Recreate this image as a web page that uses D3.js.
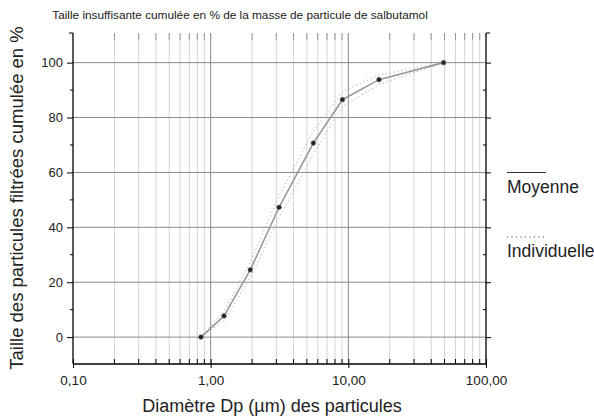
<!DOCTYPE html>
<html>
<head>
<meta charset="utf-8">
<script src="https://cdn.jsdelivr.net/npm/d3@7"></script>
<style>
 body { margin: 0; background: #fff; }
 text { font-family: "Liberation Sans", Arial, sans-serif; fill: #222; }
</style>
</head>
<body>
<div id="chart"></div>
<script>
// data
const diam = [0.85, 1.25, 1.94, 3.14, 5.57, 9.06, 16.7, 49.2];
const moyenne = [0, 7.7, 24.5, 47.3, 70.7, 86.5, 93.8, 100];
const indiv1 = [0, 9.5, 27.5, 51.5, 75, 89.5, 95.5, 100];
const indiv2 = [0, 6, 21.5, 43.5, 66.5, 84, 92, 100];
const yTicks = [0, 20, 40, 60, 80, 100];
const xTicks = [0.1, 1, 10, 100];

const W = 594, H = 416;
const margin = { top: 33, right: 108, bottom: 52, left: 73 },
  width = W - margin.left - margin.right,
  height = H - margin.top - margin.bottom;

const svg0 = d3.select("#chart").append("svg")
  .attr("width", W).attr("height", H);
const svg = svg0.append("g")
  .attr("transform", `translate(${margin.left}, ${margin.top})`);

const x = d3.scaleLog().domain([0.1, 100]).range([0, 413]);
const y = d3.scaleLinear().domain([-9.8, 110.8]).range([height, 0]);

// minor positions of the log axis
let minor = [];
[0.1, 1, 10].forEach(function (d) {
  for (let k = 2; k <= 9; k++) minor.push(d * k);
});

// grid
svg.append("g").selectAll("line").data(minor).enter().append("line")
  .attr("x1", d => x(d)).attr("x2", d => x(d))
  .attr("y1", 0).attr("y2", height)
  .attr("stroke", "#d4d4d4").attr("stroke-width", 1);
svg.append("g").selectAll("line").data([1, 10]).enter().append("line")
  .attr("x1", d => x(d)).attr("x2", d => x(d))
  .attr("y1", 0).attr("y2", height)
  .attr("stroke", "#8a8a8a").attr("stroke-width", 1);
svg.append("g").selectAll("line").data(yTicks).enter().append("line")
  .attr("x1", 0).attr("x2", x(100))
  .attr("y1", d => y(d)).attr("y2", d => y(d))
  .attr("stroke", "#8a8a8a").attr("stroke-width", 1);

// bottom axis
const xAxis = svg.append("g").attr("transform", "translate(0," + height + ")");
xAxis.call(d3.axisBottom(x).tickValues(xTicks)
  .tickFormat(d => d3.format(".2f")(d).replace(".", ","))
  .tickSize(5).tickPadding(6));
xAxis.selectAll("text").style("font-size", "13.5px");
xAxis.select(".domain").attr("d", "M0,0H" + x(100));
xAxis.append("g").selectAll("line").data(minor).enter().append("line")
  .attr("x1", d => x(d)).attr("x2", d => x(d))
  .attr("y1", 0).attr("y2", -5).attr("stroke", "#000");
xAxis.selectAll(".tick line").attr("y1", -5).attr("y2", 4);

// top minor ticks (no line)
svg.append("g").selectAll("line").data(minor.concat([1, 10])).enter().append("line")
  .attr("x1", d => x(d)).attr("x2", d => x(d))
  .attr("y1", 0).attr("y2", 7).attr("stroke", "#999");

// left axis
const yAxis = svg.append("g");
yAxis.call(d3.axisLeft(y).tickValues(yTicks).tickSize(6).tickPadding(4));
yAxis.selectAll("text").style("font-size", "13px");
yAxis.select(".domain").attr("d", "M0,0V" + height);
yAxis.append("g").selectAll("line").data([10, 30, 50, 70, 90]).enter().append("line")
  .attr("x1", -3).attr("x2", 0)
  .attr("y1", d => y(d)).attr("y2", d => y(d)).attr("stroke", "#000");
yAxis.append("line").attr("x1", -4).attr("x2", 0).attr("y1", 0).attr("y2", 0).attr("stroke", "#000");

// right axis
const rAxis = svg.append("g").attr("transform", "translate(" + x(100) + ",0)");
rAxis.call(d3.axisRight(y).tickValues(yTicks).tickSize(5).tickFormat(""));
rAxis.select(".domain").attr("d", "M0,0V" + height);
rAxis.append("g").selectAll("line").data([10, 30, 50, 70, 90]).enter().append("line")
  .attr("x1", -3).attr("x2", 0)
  .attr("y1", d => y(d)).attr("y2", d => y(d)).attr("stroke", "#000");
rAxis.append("line").attr("x1", 0).attr("x2", 4).attr("y1", 0).attr("y2", 0).attr("stroke", "#000");

svg.selectAll(".domain").attr("stroke", "#000").attr("stroke-width", 1.3);

// curves
const line = d3.line().x(d => x(d[0])).y(d => y(d[1]));
[indiv1, indiv2].forEach(function (s) {
  svg.append("path")
    .datum(d3.zip(diam, s))
    .attr("d", line)
    .attr("fill", "none")
    .attr("stroke", "#a0a0a0")
    .attr("stroke-width", 1)
    .attr("stroke-dasharray", "1,3");
});
svg.append("path")
  .datum(d3.zip(diam, moyenne))
  .attr("d", line)
  .attr("fill", "none")
  .attr("stroke", "#999")
  .attr("stroke-width", 1.6);
svg.append("g").selectAll("circle").data(d3.zip(diam, moyenne)).enter().append("circle")
  .attr("cx", d => x(d[0])).attr("cy", d => y(d[1]))
  .attr("r", 2.4).attr("fill", "#222").attr("stroke", "#777").attr("stroke-width", 0.6);

// texts
svg0.append("text").attr("x", 240).attr("y", 19).attr("text-anchor", "middle")
  .style("font-size", "11.8px")
  .text("Taille insuffisante cumulée en % de la masse de particule de salbutamol");
svg0.append("text").attr("x", 272).attr("y", 412).attr("text-anchor", "middle")
  .style("font-size", "18px")
  .text("Diamètre Dp (µm) des particules");
svg0.append("text")
  .attr("transform", "translate(23,198) rotate(-90)")
  .attr("text-anchor", "middle")
  .style("font-size", "18.5px")
  .text("Taille des particules filtrées cumulée en %");

// legend
svg0.append("line").attr("x1", 507).attr("x2", 546).attr("y1", 172.5).attr("y2", 172.5)
  .attr("stroke", "#333").attr("stroke-width", 1);
svg0.append("text").attr("x", 507).attr("y", 193).style("font-size", "17.5px").text("Moyenne");
svg0.append("line").attr("x1", 507).attr("x2", 544).attr("y1", 237).attr("y2", 237)
  .attr("stroke", "#333").attr("stroke-width", 1.2).attr("stroke-dasharray", "1,3.5");
svg0.append("text").attr("x", 507).attr("y", 257).style("font-size", "17.5px").text("Individuelle");
</script>
</body>
</html>
